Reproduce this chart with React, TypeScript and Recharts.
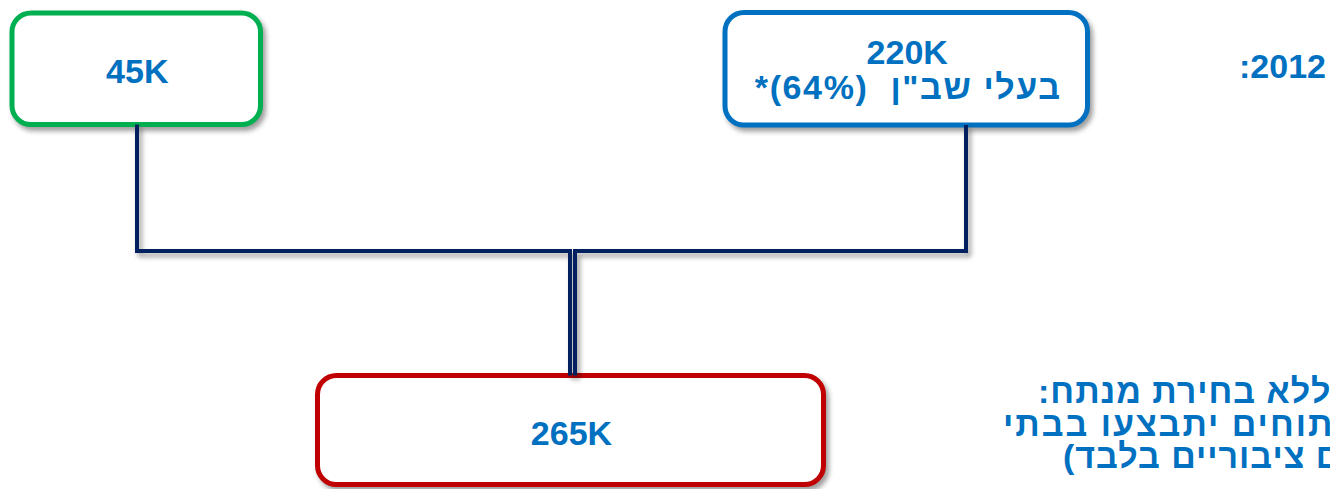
import React from 'react';
import { ComposedChart, XAxis, YAxis, Line, ReferenceArea } from 'recharts';

// ---- data ----
const nodeLabels = ['45K', '220K', '265K'];
const nodeSubLabels = ['', 'בעלי שב"ן  (64%)*', ''];
const headerLabel = '2012:';
const noteLines = ['ללא בחירת מנתח:', 'ניתוחים יתבצעו בבתי', 'חולים ציבוריים בלבד)'];

// ---- layout (diagram coordinates, pixels of the 1330x489 canvas) ----
const W = 1330;
const H = 489;
const boxes = [
  { x1: 12, x2: 260.5, y1: 13, y2: 124.5, color: '#00B050', labelY: 82.5, subY: 0 },
  { x1: 725, x2: 1087.5, y1: 12.5, y2: 125, color: '#0070C0', labelY: 63.5, subY: 99 },
  { x1: 317.5, x2: 823.5, y1: 375.5, y2: 484.5, color: '#C00000', labelY: 445, subY: 0 },
];
const joinY = 251;
const leftDropX = 137;
const rightDropX = 966;
const leftMergeX = 570;
const rightMergeX = 575;
const header = { x: 1326, y: 77.5 };
const noteLayout = [
  { x: 1038, y: 403, ls: 1 },
  { x: 1003, y: 436, ls: 2 },
  { x: 1063, y: 468, ls: 1 },
];

const TEXT_BLUE = '#0070C0';
const LINE_NAVY = '#002060';
const FONT = '"Liberation Sans", Arial, "DejaVu Sans", sans-serif';
const FS = 34;

const leftConnector = [
  { x: leftDropX, y: boxes[0].y2 },
  { x: leftDropX, y: joinY },
  { x: leftMergeX, y: joinY },
  { x: leftMergeX, y: boxes[2].y1 },
];
const rightConnector = [
  { x: rightDropX, y: boxes[1].y2 },
  { x: rightDropX, y: joinY },
  { x: rightMergeX, y: joinY },
  { x: rightMergeX, y: boxes[2].y1 },
];

const subStyle: React.CSSProperties = { whiteSpace: 'pre', letterSpacing: '1.6px' };

const makeBoxShape = (i: number) => (props: any) => {
  const { x, y, width, height } = props;
  const b = boxes[i];
  const cx = x + width / 2;
  const sy = (v: number) => y + ((v - b.y1) / (b.y2 - b.y1)) * height;
  return (
    <g>
      <rect
        className="shadow"
        x={x}
        y={y}
        width={width}
        height={height}
        rx={19}
        ry={19}
        fill="#FFFFFF"
        stroke={b.color}
        strokeWidth={5}
      />
      <text
        x={cx + 1}
        y={sy(b.labelY)}
        textAnchor="middle"
        fill={TEXT_BLUE}
        fontFamily={FONT}
        fontWeight="bold"
        fontSize={FS}
      >
        {nodeLabels[i]}
      </text>
      {nodeSubLabels[i] ? (
        <text
          x={cx + 2}
          y={sy(b.subY)}
          textAnchor="middle"
          direction="rtl"
          style={subStyle}
          fill={TEXT_BLUE}
          fontFamily={FONT}
          fontWeight="bold"
          fontSize={FS}
        >
          {nodeSubLabels[i]}
        </text>
      ) : null}
    </g>
  );
};

const TextShape = (props: any) => {
  const { x, y, width, height } = props;
  const sx = (v: number) => x + (v / W) * width;
  const sy = (v: number) => y + (v / H) * height;
  return (
    <g>
      <text
        x={sx(header.x)}
        y={sy(header.y)}
        textAnchor="start"
        direction="rtl"
        fill={TEXT_BLUE}
        fontFamily={FONT}
        fontWeight="bold"
        fontSize={FS}
      >
        {headerLabel}
      </text>
      {noteLines.map((t, i) => (
        <text
          key={i}
          x={sx(noteLayout[i].x)}
          y={sy(noteLayout[i].y)}
          textAnchor="end"
          direction="rtl"
          style={{ letterSpacing: `${noteLayout[i].ls}px` }}
          fill={TEXT_BLUE}
          fontFamily={FONT}
          fontWeight="bold"
          fontSize={FS}
        >
          {t}
        </text>
      ))}
    </g>
  );
};

export default function App() {
  return (
    <div style={{ position: 'absolute', left: 0, top: 0, width: W, height: H, background: '#fff', overflow: 'hidden' }}>
      <style>{`.shadow { filter: drop-shadow(3px 4px 2.5px rgba(0,0,0,0.38)); }`}</style>
      <ComposedChart width={W} height={H} margin={{ top: 0, right: 0, bottom: 0, left: 0 }}>
        <XAxis type="number" dataKey="x" domain={[0, W]} hide allowDataOverflow />
        <YAxis type="number" dataKey="y" domain={[0, H]} reversed hide allowDataOverflow width={0} />
        <ReferenceArea x1={0} x2={W} y1={0} y2={H} shape={TextShape} ifOverflow="visible" />
        <Line
          className="shadow"
          data={leftConnector}
          dataKey="y"
          type="linear"
          stroke={LINE_NAVY}
          strokeWidth={4}
          dot={false}
          activeDot={false}
          isAnimationActive={false}
        />
        <Line
          className="shadow"
          data={rightConnector}
          dataKey="y"
          type="linear"
          stroke={LINE_NAVY}
          strokeWidth={4}
          dot={false}
          activeDot={false}
          isAnimationActive={false}
        />
        {boxes.map((b, i) => (
          <ReferenceArea
            key={i}
            x1={b.x1}
            x2={b.x2}
            y1={b.y1}
            y2={b.y2}
            shape={makeBoxShape(i)}
            ifOverflow="visible"
          />
        ))}
      </ComposedChart>
    </div>
  );
}
